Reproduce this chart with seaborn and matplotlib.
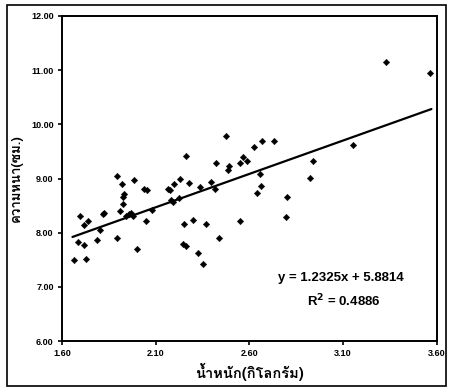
import matplotlib
matplotlib.use("Agg")
import matplotlib.pyplot as plt
from matplotlib.patches import Rectangle
import seaborn as sns
import pandas as pd
import numpy as np

# Data
weight_kg = [1.666, 1.684, 1.694, 1.716, 1.717, 1.730, 1.737, 1.785, 1.804, 1.819,
             1.826, 1.892, 1.893, 1.908, 1.918, 1.924, 1.927, 1.932, 1.943, 1.957,
             1.968, 1.979, 1.986, 2.000, 2.039, 2.053, 2.050, 2.078, 2.164, 2.174,
             2.181, 2.192, 2.197, 2.231, 2.224, 2.251, 2.247, 2.260, 2.261, 2.276,
             2.299, 2.325, 2.336, 2.354, 2.368, 2.393, 2.418, 2.420, 2.439, 2.476,
             2.484, 2.491, 2.548, 2.548, 2.565, 2.588, 2.624, 2.638, 2.658, 2.660,
             2.668, 2.729, 2.798, 2.796, 2.924, 2.940, 3.150, 3.330, 3.561]
thickness_cm = [7.495, 7.83, 8.30, 8.135, 7.77, 7.52, 8.215, 7.87, 8.055, 8.345,
                8.36, 9.046, 7.895, 8.394, 8.898, 8.523, 8.66, 8.72, 8.30, 8.35,
                8.363, 8.30, 8.966, 7.705, 8.80, 8.794, 8.215, 8.425, 8.80, 8.794,
                8.61, 8.566, 8.905, 8.99, 8.646, 8.154, 7.797, 7.754, 9.409, 8.917,
                8.228, 7.625, 8.843, 7.415, 8.154, 8.942, 8.806, 9.286, 7.895, 9.791,
                9.163, 9.225, 9.286, 8.209, 9.403, 9.323, 9.582, 8.738, 9.077, 8.862,
                9.698, 9.692, 8.658, 8.295, 9.015, 9.323, 9.625, 11.145, 10.954]
slope = 1.2325
intercept = 5.8814
r_squared = 0.4886
x_ticks = [1.60, 2.10, 2.60, 3.10, 3.60]
y_ticks = [6.00, 7.00, 8.00, 9.00, 10.00, 11.00, 12.00]
x_label = "น้ำหนัก(กิโลกรัม)"
y_label = "ความหนา(ซม.)"

sns.set_style("white")
plt.rcParams["font.family"] = ["Liberation Sans", "Loma", "DejaVu Sans"]
plt.rcParams["font.weight"] = "bold"
plt.rcParams["text.color"] = "black"
plt.rcParams["axes.labelcolor"] = "black"
plt.rcParams["xtick.color"] = "black"
plt.rcParams["ytick.color"] = "black"

df = pd.DataFrame({"w": weight_kg, "t": thickness_cm})
fit_x = np.array([min(weight_kg) - 0.01, max(weight_kg) + 0.01])
fit_df = pd.DataFrame({"w": fit_x, "t": slope * fit_x + intercept})

fig = plt.figure(figsize=(4.49, 3.89), dpi=100)
ax = fig.add_axes([0.138, 0.123, 0.835, 0.836])

sns.scatterplot(data=df, x="w", y="t", ax=ax, marker="D", s=11,
                color="black", edgecolor="black", linewidth=0.3, zorder=3)
sns.lineplot(data=fit_df, x="w", y="t", ax=ax, color="black", linewidth=1.6, zorder=2)

ax.set_xlim(1.60, 3.60)
ax.set_ylim(6.0, 12.0)
ax.set_xticks(x_ticks)
ax.set_yticks(y_ticks)
ax.set_xticklabels([f"{v:.2f}" for v in x_ticks], fontsize=6.5, fontweight="bold")
ax.set_yticklabels([f"{v:.2f}" for v in y_ticks], fontsize=6.5, fontweight="bold")
ax.tick_params(axis="both", direction="out", length=3, width=1.2, colors="black", pad=3)
ax.tick_params(axis="x", bottom=True)
ax.tick_params(axis="y", left=True)
for sp in ax.spines.values():
    sp.set_visible(True)
    sp.set_color("black")
    sp.set_linewidth(1.4)

ax.set_xlabel(x_label, fontsize=10.5, fontweight="bold", color="black",
              family=["Loma", "Liberation Sans"], labelpad=3)
ax.set_ylabel(y_label, fontsize=9.5, fontweight="bold", color="black",
              family=["Loma", "Liberation Sans"], labelpad=6)

ax.text(0.745, 0.193, f"y = {slope}x + {intercept}", transform=ax.transAxes,
        ha="center", va="center", fontsize=9.5, fontweight="bold", color="black")
ax.text(0.752, 0.125, f"R$^\\mathbf{{2}}$ = {r_squared}", transform=ax.transAxes,
        ha="center", va="center", fontsize=9.5, fontweight="bold", color="black")

fig.patches.append(Rectangle((0.016, 0.008), 0.978, 0.98, transform=fig.transFigure,
                             fill=False, edgecolor="black", linewidth=1.2))

fig.savefig("out.png", dpi=100)
